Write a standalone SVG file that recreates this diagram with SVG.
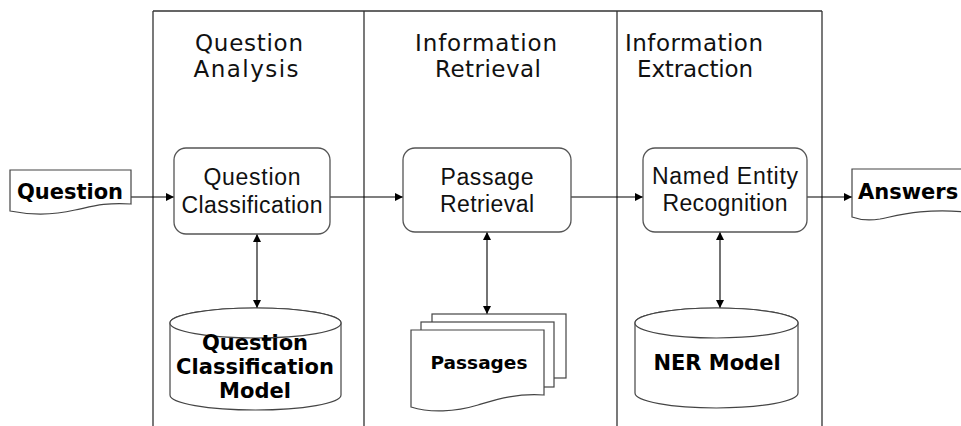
<svg xmlns="http://www.w3.org/2000/svg" width="961" height="426" viewBox="0 0 961 426">
<defs>
<marker id="ah" viewBox="0 0 10 10" refX="10" refY="5" markerWidth="8" markerHeight="8" markerUnits="userSpaceOnUse" orient="auto-start-reverse">
<path d="M0,0 L10,5 L0,10 Z" fill="#000"/>
</marker>
<style>
.lane{stroke:#333;stroke-width:1.3;fill:none}
.box{fill:#fff;stroke:#555;stroke-width:1.3}
.shape{fill:#fff;stroke:#444;stroke-width:1.2}
.conn{stroke:#000;stroke-width:1.1;fill:none;marker-end:url(#ah)}
.bi{marker-start:url(#ah)}
.title{font-family:"DejaVu Sans",sans-serif;font-size:23px;fill:#111;text-anchor:middle}
.lbl{font-family:"Liberation Sans",Arial,sans-serif;font-size:23px;fill:#111;text-anchor:middle}
.bold{font-family:"DejaVu Sans",sans-serif;font-weight:bold;font-size:21px;fill:#000;text-anchor:middle}
</style>
</defs>
<rect width="961" height="426" fill="#fff"/>
<g id="lanes">
<path class="lane" d="M153,11 H822 M153,11 V426 M364,11 V426 M617,11 V426 M822,11 V426"/>
<text class="title" x="249" y="51" textLength="108" lengthAdjust="spacing">Question</text>
<text class="title" x="246" y="77" textLength="105" lengthAdjust="spacing">Analysis</text>
<text class="title" x="486" y="51" textLength="142" lengthAdjust="spacing">Information</text>
<text class="title" x="488" y="77" textLength="106" lengthAdjust="spacing">Retrieval</text>
<text class="title" x="694" y="51" textLength="138" lengthAdjust="spacing">Information</text>
<text class="title" x="695" y="77" textLength="116" lengthAdjust="spacing">Extraction</text>
</g>
<g id="connectors">
<line class="conn" x1="131" y1="197" x2="174" y2="197"/>
<line class="conn" x1="330" y1="197" x2="403" y2="197"/>
<line class="conn" x1="571" y1="197" x2="643" y2="197"/>
<line class="conn" x1="807" y1="197" x2="852" y2="197"/>
<line class="conn bi" x1="257" y1="234" x2="257" y2="308"/>
<line class="conn bi" x1="487" y1="232" x2="487" y2="314"/>
<line class="conn bi" x1="720" y1="232" x2="720" y2="308"/>
</g>
<g id="question">
<path class="shape" d="M10,170 H131 V204 C105,202 90,207 75,210 C50,216 30,215 10,211 Z"/>
<text class="bold" x="70" y="199">Question</text>
</g>
<g id="question-classification">
<rect class="box" x="174" y="148" width="156" height="86" rx="12"/>
<text class="lbl" x="252" y="185" textLength="97" lengthAdjust="spacing">Question</text>
<text class="lbl" x="252" y="213" textLength="141" lengthAdjust="spacing">Classification</text>
</g>
<g id="passage-retrieval">
<rect class="box" x="403" y="148" width="168" height="84" rx="12"/>
<text class="lbl" x="487" y="185" textLength="93" lengthAdjust="spacing">Passage</text>
<text class="lbl" x="487" y="212" textLength="94" lengthAdjust="spacing">Retrieval</text>
</g>
<g id="ner">
<rect class="box" x="643" y="148" width="164" height="84" rx="12"/>
<text class="lbl" x="725" y="184" textLength="146" lengthAdjust="spacing">Named Entity</text>
<text class="lbl" x="725" y="211" textLength="125" lengthAdjust="spacing">Recognition</text>
</g>
<g id="answers">
<path class="shape" d="M852,169 H966 V212 C925,208 900,215 880,219 C868,221 860,220 852,217 Z"/>
<text class="bold" x="858" y="199" style="text-anchor:start">Answers</text>
</g>
<g id="qc-model">
<path class="shape" d="M170,323 V395 A85.5,15 0 0 0 341,395 V323 A85.5,15 0 0 0 170,323 Z"/>
<ellipse class="shape" cx="255.5" cy="323" rx="85.5" ry="15" fill="none"/>
<text class="bold" x="255" y="350">Question</text>
<text class="bold" x="255" y="374">Classification</text>
<text class="bold" x="255" y="398">Model</text>
</g>
<g id="passages">
<rect class="shape" x="432" y="314" width="134" height="64"/>
<rect class="shape" x="421" y="322" width="133" height="65"/>
<path class="shape" d="M411,330 H544 V395 C515,393 495,400 478,405 C455,412 430,413 411,407 Z"/>
<text class="bold" x="479" y="369" style="font-size:18.5px">Passages</text>
</g>
<g id="ner-model">
<path class="shape" d="M635,323 V393 A81.5,15 0 0 0 798,393 V323 A81.5,15 0 0 0 635,323 Z"/>
<ellipse class="shape" cx="716.5" cy="323" rx="81.5" ry="15" fill="none"/>
<text class="bold" x="717" y="370">NER Model</text>
</g>
</svg>
